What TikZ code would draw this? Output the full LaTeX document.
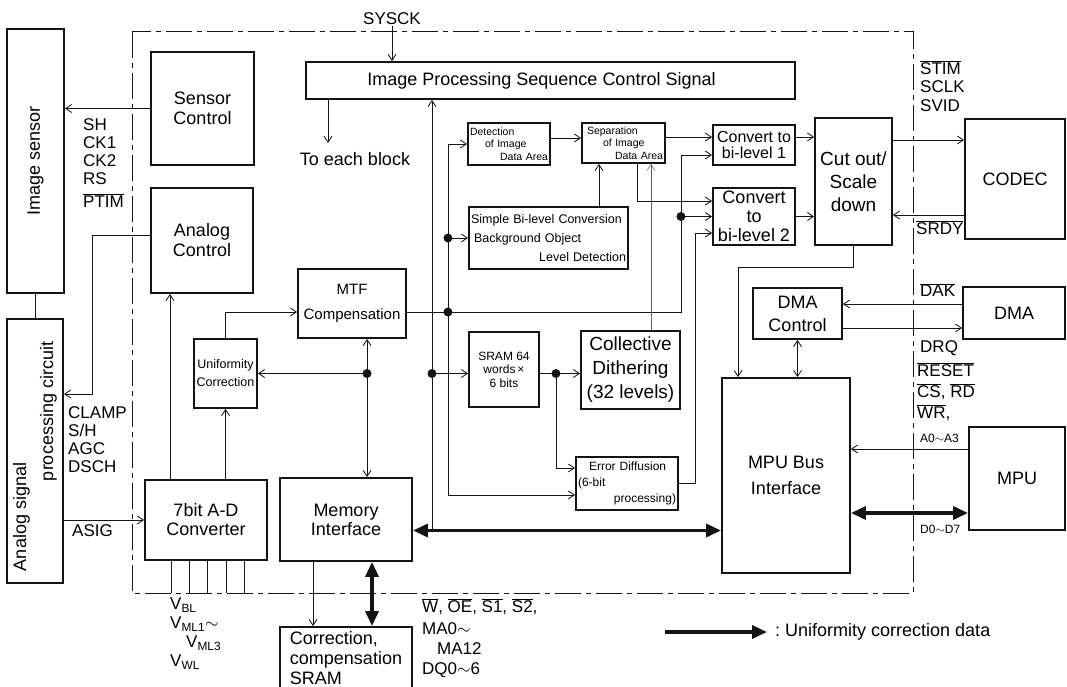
\documentclass[tikz,border=0pt]{standalone}
\usepackage{fontspec}
\setmainfont{Liberation Sans}
\usepackage{xcolor}
\definecolor{ink}{RGB}{20,20,20}
\usetikzlibrary{arrows.meta,positioning,calc}
\newcommand{\fsz}[2]{\fontsize{#1}{#2}\selectfont}
\newcommand{\ovl}[1]{$\overline{\mbox{#1}}$}

\begin{document}
\begin{tikzpicture}[x=1pt,y=-1pt,
  blk/.style={draw=ink,line width=1.9pt,inner sep=2pt,align=center,
              font=\fsz{18}{20}},
  arr/.style={-{Straight Barb[length=6pt,width=8pt]},line width=0.8pt,ink},
  arrs/.style={{Straight Barb[length=6pt,width=8pt]}-{Straight Barb[length=6pt,width=8pt]},
               line width=0.8pt,ink},
  bus/.style={{Triangle[length=15pt,width=13pt]}-{Triangle[length=15pt,width=13pt]},
              line width=3.5pt,ink},
  busr/.style={-{Triangle[length=15pt,width=13pt]},line width=3.5pt,ink},
  sig/.style={anchor=north west,align=left,inner sep=0pt,font=\fsz{17}{18}},
  bound/.style={ink,line width=1pt,dash pattern=on 26pt off 5pt on 5pt off 5pt},
]
  \useasboundingbox (0,0) rectangle (1067,687);

  %% outer chip boundary
  \draw[bound] (132,32) rectangle (913,593);

  %% external blocks
  \node[blk,minimum width=57pt,minimum height=264pt](IS) at (35.5,161)
    {\rotatebox{90}{Image sensor}};
  \node[blk,minimum width=56pt,minimum height=264pt](APC) at (35,451)
    {\rotatebox{90}{\parbox{240pt}{\fsz{18}{27}Analog signal\\
      \hspace*{90pt}processing circuit}}};
  \node[blk,minimum width=100pt,minimum height=120pt](COD) at (1015,179) {CODEC};
  \node[blk,minimum width=102pt,minimum height=52pt](DMA) at (1014,313) {DMA};
  \node[blk,minimum width=96pt,minimum height=103pt](MPU) at (1017,478.5) {MPU};
  \node[blk,minimum width=132pt,minimum height=62pt,align=left](CS) at (346,658)
    {Correction,\\compensation\\SRAM};

  %% sensor side
  \node[blk,minimum width=103pt,minimum height=113pt](SC) at (202.5,108.5) {Sensor\\Control};
  \node[blk,minimum width=102pt,minimum height=105pt](AC) at (202,240.5) {Analog\\Control};
  \node[blk,minimum width=122pt,minimum height=80pt,font=\fsz{18}{19}](AD) at (206,520)
    {7bit A-D\\Converter};
  \node[blk,minimum width=63pt,minimum height=69pt,font=\fsz{12.5}{18}](UC) at (225.5,373.5)
    {Uniformity\\Correction};
  \node[blk,minimum width=108pt,minimum height=69pt,font=\fsz{15}{25}](MTF) at (352,303.5)
    {MTF\\Compensation};
  \node[blk,minimum width=132pt,minimum height=83pt,font=\fsz{18}{19}](MI) at (346,519.5)
    {Memory\\Interface};

  %% image processing blocks
  \node[blk,minimum width=489pt,minimum height=37pt](IPS) at (550.5,80.5)
    {Image Processing Sequence Control Signal\hspace*{18pt}};
  \node[blk,text width=78pt,minimum height=42pt,align=left,font=\fsz{10.5}{12.5}](DET)
    at (509,144) {Detection\\\hspace*{15pt}of Image\\\hspace*{0pt plus 1fill}Data Area};
  \node[blk,text width=79pt,minimum height=40pt,align=left,font=\fsz{10.5}{12.5}](SEP)
    at (623.5,143) {\hspace*{3pt}Separation\\\hspace*{19pt}of Image\\\hspace*{0pt plus 1fill}Data Area};
  \node[blk,text width=155pt,minimum height=62pt,align=left,font=\fsz{12.5}{19}](SBL)
    at (548.5,238) {Simple Bi-level Conversion\\\hspace*{3pt}Background Object\\
      \hspace*{0pt plus 1fill}Level Detection};
  \node[blk,minimum width=82pt,minimum height=40pt,font=\fsz{16}{16.5}](CV1) at (754,145)
    {Convert to\\bi-level 1};
  \node[blk,minimum width=82pt,minimum height=57pt,font=\fsz{18}{19}](CV2) at (754,216.5)
    {Convert\\to\\bi-level 2};
  \node[blk,minimum width=77pt,minimum height=127pt,font=\fsz{19}{23}](CUT) at (853.5,181.5)
    {Cut out/\\Scale\\down};
  \node[blk,minimum width=70pt,minimum height=75pt,font=\fsz{12}{13.5}](SR64) at (504,369.5)
    {SRAM 64\\words\,×\\6 bits};
  \node[blk,minimum width=99pt,minimum height=78pt,font=\fsz{19}{24}](COL) at (630.5,370)
    {Collective\\Dithering\\(32 levels)};
  \node[blk,text width=98pt,minimum height=53pt,align=left,font=\fsz{12}{16}](ED)
    at (627,483.5) {\hspace*{11pt}Error Diffusion\\(6-bit\\\hspace*{0pt plus 1fill}processing)};
  \node[blk,minimum width=89pt,minimum height=51pt,font=\fsz{18}{23}](DMAC) at (797.5,313.5)
    {DMA\\Control};
  \node[blk,minimum width=128pt,minimum height=195pt,font=\fsz{18}{26}](MPUB) at (786,475.5)
    {MPU Bus\\Interface};

  %% signal names
  \node[font=\fsz{17}{18},inner sep=1pt](SYS) at (392,19) {SYSCK};
  \node[font=\fsz{18}{20},inner sep=1pt](TEB) at (355,159) {To each block};
  \node[sig](SIGS) at (83,118) {SH\\CK1\\CK2\\RS\\[5pt]\ovl{PTIM}};
  \node[sig](SIGA) at (68,406) {CLAMP\\S/H\\AGC\\DSCH};
  \node[sig](ASIG) at (72,524) {ASIG};
  \node[sig,font=\fsz{17}{19}](VREF) at (170,598)
    {V\textsubscript{BL}\\V\textsubscript{ML1}$\sim$\\\hspace*{16pt}V\textsubscript{ML3}\\V\textsubscript{WL}};
  \node[sig,font=\fsz{17}{20}](MEMS) at (422,598)
    {\ovl{W}, \ovl{OE}, \ovl{S1}, \ovl{S2},\\[2pt]MA0$\sim$\\\hspace*{15pt}MA12\\DQ0$\sim$6};
  \node[sig,font=\fsz{17}{18.5}](CODS) at (920,60) {\ovl{STIM}\\SCLK\\SVID};
  \node[sig](SRDY) at (916,220) {\ovl{SRDY}};
  \node[sig](DAK) at (920,283) {\ovl{DAK}};
  \node[sig](DRQ) at (920,340) {DRQ};
  \node[sig,font=\fsz{17}{21}](MPUS) at (917,362) {\ovl{RESET}\\\ovl{CS}, \ovl{RD}\\\ovl{WR},};
  \node[sig,font=\fsz{12}{13}](ADDR) at (920,434) {A0$\sim$A3};
  \node[sig,font=\fsz{12}{13}](DATA) at (920,525) {D0$\sim$D7};
  \node[anchor=west,inner sep=0pt,font=\fsz{18}{20}](LEG) at (775,632)
    {:\ Uniformity correction data};

  %% junctions and bends
  \coordinate (J1) at ([xshift=15pt]MTF.south |- UC.east);
  \coordinate (J2) at ([xshift=41pt,yshift=-8.5pt]MTF.east);
  \coordinate (J3) at ([xshift=-118.5pt]IPS.south |- J1);
  \coordinate (J4) at ([xshift=16pt]SR64.east |- J1);
  \coordinate (J5) at (J2 |- SBL.west);
  \coordinate (MX) at (J2 -| COL.east);
  \coordinate (J6) at (MX |- CV2.west);
  \coordinate (B1) at ([yshift=-11pt]MI.east);
  \coordinate (C1in) at ([yshift=-10pt]CV1.west);
  \coordinate (C2ed) at ([yshift=-16.5pt]CV2.west);
  \coordinate (C2sep) at ([yshift=15.5pt]CV2.west);
  \coordinate (EDx) at ([xshift=-17pt]C2ed);
  \coordinate (EDin) at ([yshift=-11.5pt]ED.west);
  \coordinate (EDtop) at ([yshift=15.5pt]ED.west);
  \coordinate (Cup) at ([xshift=20.5pt]COL.north);
  \coordinate (Sup) at ([xshift=50.5pt]SBL.north);
  \coordinate (Dout) at ([yshift=6pt]DET.east);
  \coordinate (Sout) at ([yshift=6pt]SEP.east);
  \coordinate (V1out) at ([yshift=8pt]CV1.east);
  \coordinate (Kout) at ([yshift=41.5pt]CUT.east);
  \coordinate (Kin) at ([yshift=-33.5pt]CUT.east);
  \coordinate (Ain) at ([yshift=9pt]DMA.west);
  \coordinate (Aout) at ([yshift=-14.5pt]DMAC.east);
  \coordinate (Pin) at ([yshift=29.5pt]MPU.west);
  \coordinate (Pbus) at ([yshift=-34.5pt]MPU.west);
  \coordinate (Mb) at ([xshift=26pt]MI.south);
  \coordinate (Ma) at ([xshift=-33pt]MI.south);
  \coordinate (Tb) at ([xshift=-222.5pt]IPS.south);
  \coordinate (Ip) at ([xshift=-118.5pt]IPS.south);
  \coordinate (LG) at (665,632);

  %% sensor side connectors
  \draw[arr](SC.west)--(SC.west -| IS.east);
  \draw[arr]([yshift=5.5pt]AC.west) -| ([xshift=28pt,yshift=57pt]APC.east)
    -- ([yshift=57pt]APC.east);
  \draw[line width=0.8pt,ink](IS.south)--(IS.south |- APC.north);
  \draw[arr](AD.west -| APC.east)--(AD.west);
  \draw[arr]([xshift=-36pt]AD.north)--([xshift=-36pt]AD.north |- AC.south);
  \draw[arr](AD.north -| UC.south)--(UC.south);
  \draw[arr](UC.north) |- ([yshift=-8.5pt]MTF.west);
  \draw[arrs]([xshift=15pt]MTF.south)--(J1 |- MI.north);
  \draw[arr](J1)--(UC.east);
  \foreach \dx in {-35,-17,1,20,38}{%
    \draw[line width=0.8pt,ink]([xshift=\dx pt]AD.south)--++(0,32);
  }

  %% processing connectors
  \draw[arr](SYS.south)--(SYS.south |- IPS.north);
  \draw[arr](Tb)--++(0,43);
  \draw[arr](J3 |- B1)--(Ip);
  \draw[arr]([yshift=-8.5pt]MTF.east) -| (MX |- C1in)--(C1in);
  \draw[arr](J6)--(CV2.west);
  \draw[arr](J2 |- DET.west)--(DET.west);
  \draw[arr](J2 |- DET.west) |- (EDin);
  \draw[arr](J5)--(SBL.west);
  \draw[arr](J3)--(J3 -| SR64.west);
  \draw[arr](J3 -| SR64.east)--(J4 -| COL.west);
  \draw[arr](J4) |- (EDtop);
  \draw[arr](ED.east) -| (EDx)--(C2ed);
  \draw[arr,line width=0.5pt,ink!70](Cup)--(Cup |- SEP.south);
  \draw[arr](Sup)--(Sup |- SEP.south);
  \draw[arr](Dout)--(Dout -| SEP.west);
  \draw[arr](Sout)--(Sout -| CV1.west);
  \draw[arr]([xshift=13.5pt]SEP.south) |- (C2sep);
  \draw[arr](V1out)--(V1out -| CUT.west);
  \draw[arr](CV2.east)--(CV2.east -| CUT.west);
  \draw[arr](Kout)--(Kout -| COD.west);
  \draw[arr](Kin -| COD.west)--(Kin);
  \draw[arr](CUT.south)--([yshift=-21pt]CUT.south) -| ([xshift=-48pt]MPUB.north);

  %% bus side connectors
  \draw[arr](Ain)--(Ain -| DMAC.east);
  \draw[arr](Aout)--(Aout -| DMA.west);
  \draw[arrs](DMAC.south)--(DMAC.south |- MPUB.north);
  \draw[arr](Pin)--(Pin -| MPUB.east);
  \draw[bus](Pbus -| MPUB.east)--(Pbus);
  \draw[bus](B1)--(B1 -| MPUB.west);
  \draw[bus](Mb)--(Mb |- CS.north);
  \draw[arr](Ma)--(Ma |- CS.north);

  %% junction dots
  \foreach \j in {J1,J2,J3,J4,J5,J6}{%
    \fill[ink](\j) circle (4.5);
  }

  %% legend
  \draw[busr](LG)--([xshift=-8pt]LEG.west);
\end{tikzpicture}
\end{document}
